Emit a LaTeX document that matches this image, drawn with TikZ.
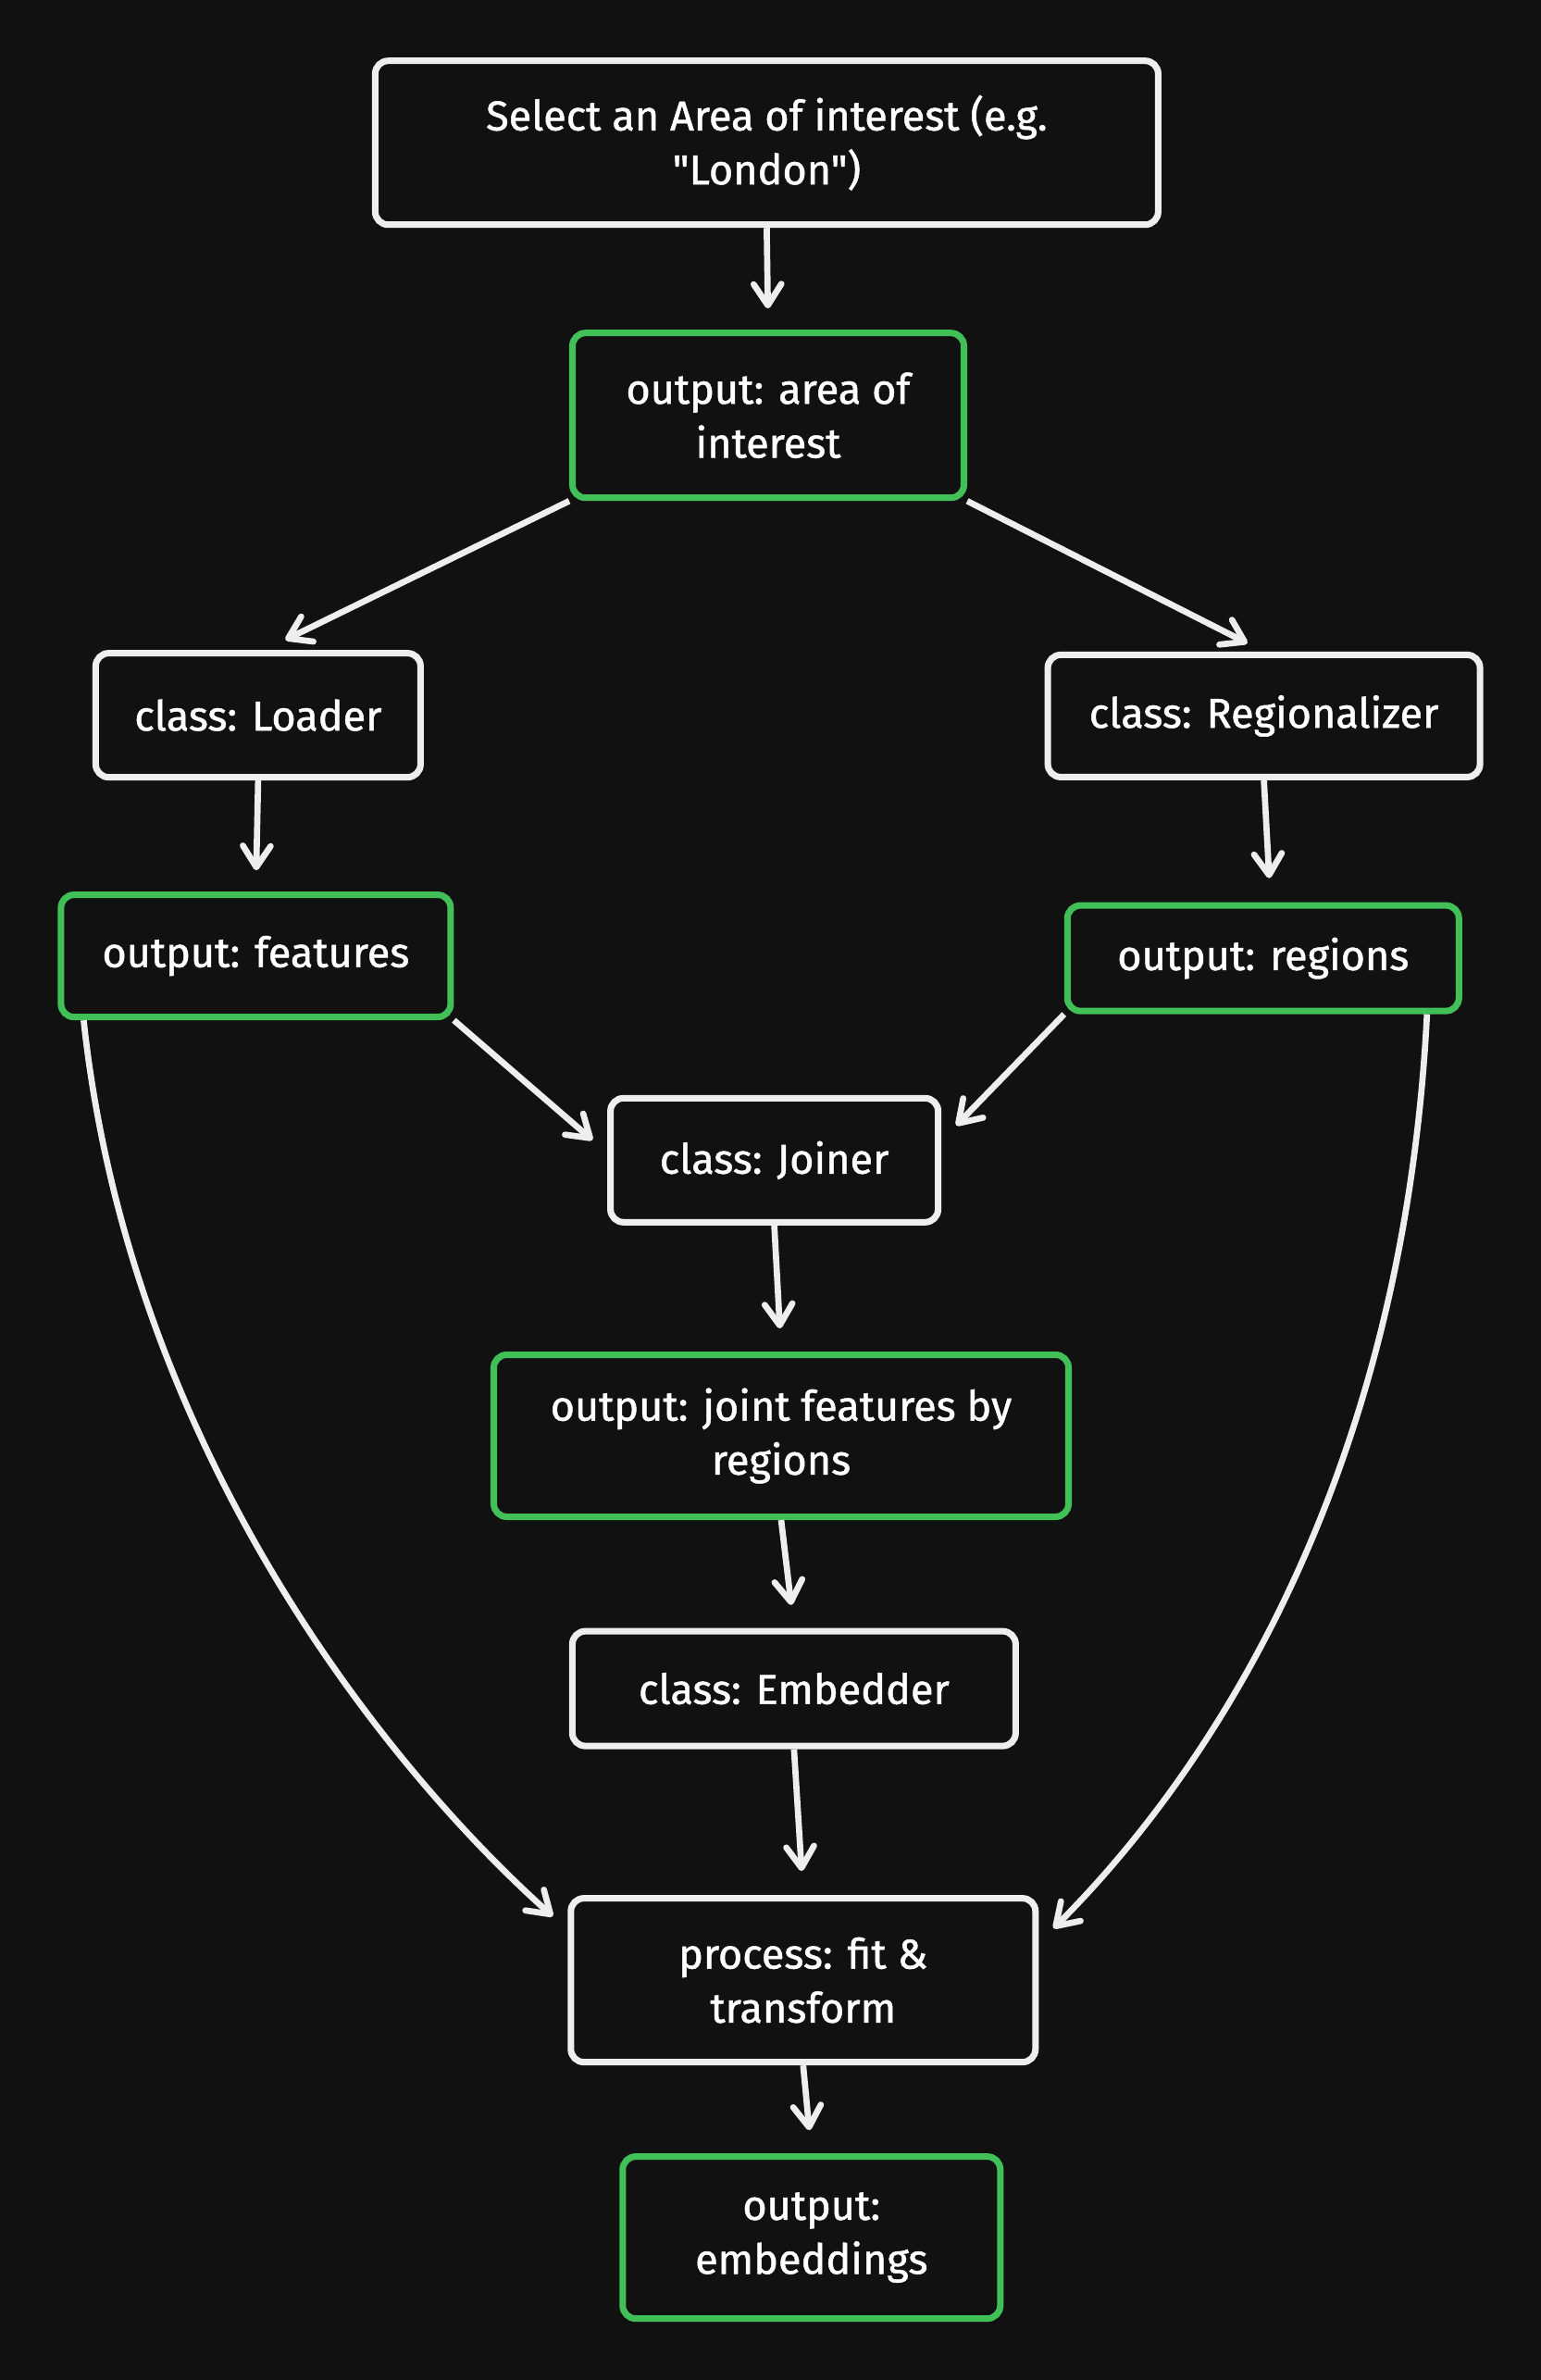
\documentclass[tikz,border=0pt]{standalone}
\usepackage{fontspec}
\setmainfont{Fira Sans}[FakeBold=1.1, Ligatures=TeXOff]
\usetikzlibrary{arrows.meta}

\definecolor{bgdark}{HTML}{111111}
\definecolor{linewhite}{HTML}{EEEEEE}
\definecolor{outgreen}{HTML}{40C057}

\begin{document}
\begin{tikzpicture}[
        box/.style={draw=linewhite, line width=2pt, rounded corners=4pt, align=center, text=white, font=\fontsize{12.8}{16.6}\selectfont, inner sep=0pt},
        outbox/.style={box, draw=outgreen},
        flow/.style={draw=linewhite, line width=1.9pt, -{Straight Barb[length=2.3mm, width=3mm, round]}}
    ]
    \fill[bgdark] (0, 0) rectangle (16.65, -25.71);
    \useasboundingbox (0, 0) rectangle (16.65, -25.71);

    \node[box, minimum width=8.46cm, minimum height=1.77cm] (select) at (8.284, -1.542) {Select an Area of interest (e.g.\\"London")};
    \node[outbox, minimum width=4.23cm, minimum height=1.78cm] (area) at (8.30, -4.487) {output: area of\\interest};

    \node[box, minimum width=3.51cm, minimum height=1.34cm] (loader) at (2.789, -7.726) {class: Loader};
    \node[box, minimum width=4.67cm, minimum height=1.32cm] (regionalizer) at (13.656, -7.734) {class: Regionalizer};

    \node[outbox, minimum width=4.21cm, minimum height=1.32cm] (features) at (2.764, -10.326) {output: features};
    \node[outbox, minimum width=4.23cm, minimum height=1.14cm] (regions) at (13.648, -10.351) {output: regions};

    \node[box, minimum width=3.54cm, minimum height=1.34cm] (joiner) at (8.366, -12.533) {class: Joiner};
    \node[outbox, minimum width=6.21cm, minimum height=1.75cm] (joint) at (8.440, -15.510) {output: joint features by\\regions};
    \node[box, minimum width=4.79cm, minimum height=1.24cm] (embedder) at (8.579, -18.241) {class: Embedder};
    \node[box, minimum width=5.02cm, minimum height=1.77cm] (process) at (8.678, -21.391) {process: fit \&\\transform};
    \node[outbox, minimum width=4.08cm, minimum height=1.75cm] (embeddings) at (8.768, -24.171) {output:\\embeddings};

    % select -> area of interest
    \draw[flow, shorten >=0.23cm] (select.south) -- (area.north);

    % area of interest -> loader
    \draw[flow, shorten >=0.25cm] (area.south west) -- ([xshift=0.07cm]loader.north);

    % area of interest -> regionalizer
    \draw[flow, shorten >=0.2cm] (area.south east) -- (regionalizer.north);

    % loader -> features
    \draw[flow, shorten >=0.23cm] (loader.south) -- (features.north);

    % regionalizer -> regions
    \draw[flow, shorten >=0.26cm] (regionalizer.south) -- ([xshift=0.08cm]regions.north);

    % features -> joiner
    \draw[flow, shorten >=0.21cm] (features.south east) -- ([yshift=0.08cm]joiner.west);

    % regions -> joiner
    \draw[flow, shorten >=0.23cm] (regions.south west) -- ([yshift=0.21cm]joiner.east);

    % joiner -> joint features
    \draw[flow, shorten >=0.25cm] (joiner.south) -- (joint.north);

    % joint features -> embedder
    \draw[flow, shorten >=0.25cm] (joint.south) -- (embedder.north);

    % embedder -> process
    \draw[flow, shorten >=0.26cm] (embedder.south) -- (process.north);

    % process -> embeddings
    \draw[flow, shorten >=0.25cm] (process.south) -- (embeddings.north);

    % features -> process (curve)
    \draw[flow] ([xshift=0.28cm]features.south west) .. controls +(0.49, -4.56) and +(-1.87, 1.67) .. ([xshift=-0.16cm, yshift=-0.23cm]process.north west);

    % regions -> process (curve)
    \draw[flow] ([xshift=-0.38cm]regions.south east) .. controls +(-0.25, -4.9) and +(1.8, 1.8) .. ([xshift=0.16cm, yshift=-0.36cm]process.north east);

\end{tikzpicture}
\end{document}
